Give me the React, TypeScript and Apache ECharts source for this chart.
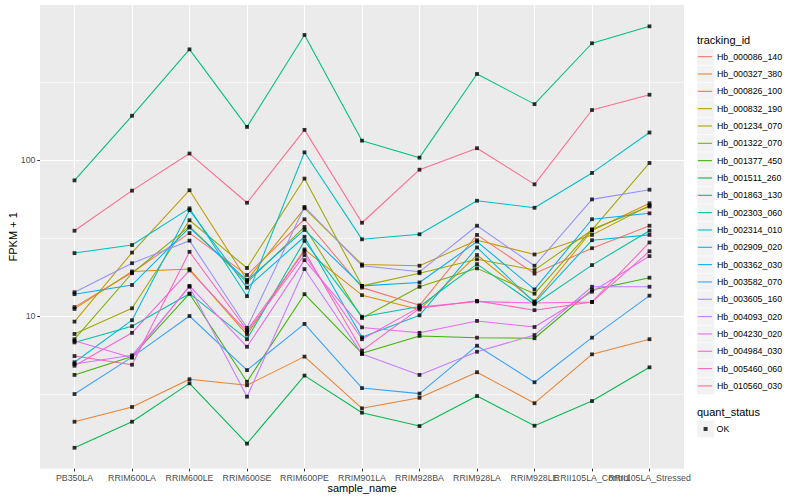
import React, { useEffect, useRef } from "react";
import * as echarts from "echarts";

const categories = [
  "PB350LA", "RRIM600LA", "RRIM600LE", "RRIM600SE", "RRIM600PE", "RRIM901LA",
  "RRIM928BA", "RRIM928LA", "RRIM928LE", "RRII105LA_Control", "RRII105LA_Stressed",
];

const trackingIds = [
  "Hb_000086_140", "Hb_000327_380", "Hb_000826_100", "Hb_000832_190", "Hb_001234_070",
  "Hb_001322_070", "Hb_001377_450", "Hb_001511_260", "Hb_001863_130", "Hb_002303_060",
  "Hb_002314_010", "Hb_002909_020", "Hb_003362_030", "Hb_003582_070", "Hb_003605_160",
  "Hb_004093_020", "Hb_004230_020", "Hb_004984_030", "Hb_005460_060", "Hb_010560_030",
];

const colors = [
  "#F8766D", "#EA8331", "#D89000", "#C09B00", "#A3A500", "#7CAE00", "#39B600", "#00BB4E",
  "#00BF7D", "#00C1A3", "#00BFC4", "#00BAE0", "#00B0F6", "#35A2FF", "#9590FF", "#C77CFF",
  "#E76BF3", "#FA62DB", "#FF62BC", "#FF6C90",
];

// FPKM + 1 per sample (order of categories)
const v000086 = [11.4, 19.0, 34.0, 18.3, 41.7, 15.2, 11.7, 33.1, 18.7, 27.2, 37.9];
const v000327 = [2.1, 2.61, 3.93, 3.6, 5.49, 2.56, 2.99, 4.36, 2.76, 5.68, 7.1];
const v000826 = [11.1, 19.3, 20.0, 7.6, 26.7, 13.6, 11.0, 24.6, 12.4, 35.3, 52.8];
const v000832 = [9.2, 25.5, 64, 17.0, 49, 21.4, 21.0, 30.6, 24.8, 33.1, 51.1];
const v001234 = [7.67, 11.2, 41.1, 20.3, 76, 15.6, 18.8, 23.1, 19.7, 35.6, 95.7];
const v001322 = [7.1, 18.8, 37.5, 16.4, 37.2, 9.7, 15.4, 20.2, 13.9, 36, 50.3];
const v001377 = [4.19, 5.5, 13.9, 3.79, 13.8, 5.76, 7.45, 7.26, 7.2, 14.7, 17.6];
const v001511 = [1.43, 2.1, 3.7, 1.52, 4.15, 2.4, 1.97, 3.07, 1.98, 2.85, 4.69];
const v001863 = [74, 192, 512, 163, 633, 133, 103.5, 356, 228, 560, 719];
const v002303 = [6.77, 8.6, 13.9, 7.1, 30.3, 9.9, 11.5, 21.5, 11.9, 21.2, 35.2];
const v002314 = [25.3, 28.5, 49, 13.4, 112, 31, 33.4, 54.8, 49.4, 82.6, 150];
const v002909 = [5.05, 9.4, 47.7, 15.2, 32.2, 7.3, 10.1, 27.5, 12.2, 30.6, 33.1];
const v003362 = [13.8, 15.8, 36.9, 16.9, 35.6, 15.6, 16.4, 30, 14.8, 41.7, 45.5];
const v003582 = [3.16, 5.45, 10, 4.5, 8.9, 3.45, 3.18, 6.45, 3.76, 7.26, 13.5];
const v003605 = [14.2, 21.8, 30.4, 8.4, 50, 21.0, 19.2, 37.9, 21, 55.9, 64.5];
const v004093 = [4.93, 5.6, 15.4, 3.04, 20, 5.7, 4.19, 5.9, 7.55, 15.4, 15.4];
const v004230 = [6.93, 5.4, 15.6, 6.35, 22.8, 8.45, 7.8, 9.3, 8.5, 14.3, 24.2];
const v004984 = [4.8, 7.8, 19.6, 7.9, 24.6, 7.1, 11.4, 12.4, 12.1, 12.3, 26];
const v005460 = [5.54, 4.87, 25.8, 8.1, 26, 6.0, 11.2, 12.5, 10.9, 12.3, 29.6];
const v010560 = [35.2, 63.6, 110, 53.2, 156, 39.6, 86.7, 119, 69.8, 209, 262];

const seriesValues = [
  v000086, v000327, v000826, v000832, v001234, v001322, v001377, v001511, v001863, v002303,
  v002314, v002909, v003362, v003582, v003605, v004093, v004230, v004984, v005460, v010560,
];

const yTickValues = [10, 100];
const statusName = "OK";

const FONT = "'Liberation Sans', Arial, Helvetica, sans-serif";

export default function App() {
  const ref = useRef<HTMLDivElement>(null);
  useEffect(() => {
    if (!ref.current) return;
    const chart = echarts.init(ref.current, null, { renderer: "svg" });
    const idx = categories.map((_, i) => i);
    const xMin = -0.6;
    const xMax = categories.length - 1 + 0.6;
    // a blank sentinel label at the axis end so that no real label is dropped for overlap
    const labelValues = [...idx, xMax];
    const minorGrid = [0.5, 1.5, 2.5].map((e) => Math.pow(10, e));

    const lineSeries = trackingIds.map((name, s) => ({
      type: "line",
      name,
      data: seriesValues[s].map((v, i) => [i, v]),
      showSymbol: false,
      symbol: "none",
      lineStyle: { color: colors[s], width: 1.05 },
      itemStyle: { color: colors[s] },
      z: 2,
      silent: true,
    }));

    const points: number[][] = [];
    seriesValues.forEach((arr) => arr.forEach((v, i) => points.push([i, v])));

    const keyH = 17.33;
    const keyRects = trackingIds.map((_, i) => ({
      type: "rect",
      shape: { x: 697, y: 48 + i * keyH, width: 17.3, height: 17.3 },
      style: { fill: "#F2F2F2", stroke: "#FFFFFF", lineWidth: 0.5 },
      silent: true,
    }));
    keyRects.push({
      type: "rect",
      shape: { x: 697, y: 420.3, width: 17.3, height: 17.3 },
      style: { fill: "#F2F2F2", stroke: "#FFFFFF", lineWidth: 0.5 },
      silent: true,
    });

    chart.setOption({
      animation: false,
      backgroundColor: "#FFFFFF",
      textStyle: { fontFamily: FONT },
      grid: {
        left: 40, right: 116, top: 5, bottom: 31.3,
        show: true, backgroundColor: "#EBEBEB", borderWidth: 0,
        containLabel: false, outerBoundsMode: "none",
      },
      title: [
        { text: "tracking_id", left: 697, top: 34.5, padding: 0,
          textStyle: { fontSize: 11, fontWeight: "normal", color: "#000", fontFamily: FONT } },
        { text: "quant_status", left: 697, top: 406, padding: 0,
          textStyle: { fontSize: 11, fontWeight: "normal", color: "#000", fontFamily: FONT } },
      ],
      graphic: keyRects,
      legend: [
        {
          data: trackingIds,
          orient: "vertical",
          left: 698, top: 48, padding: 0,
          itemWidth: 14, itemHeight: 1.1, itemGap: 0,
          icon: "rect",
          selectedMode: false,
          textStyle: { fontSize: 8.8, color: "#000", lineHeight: keyH, fontFamily: FONT },
        },
        {
          data: [statusName],
          orient: "vertical",
          left: 703.6, top: 420.3, padding: 0,
          itemWidth: 4, itemHeight: 4, itemGap: 0,
          icon: "rect",
          selectedMode: false,
          textStyle: { fontSize: 8.8, color: "#000", lineHeight: keyH, padding: [0, 0, 0, 4], fontFamily: FONT },
        },
      ],
      xAxis: {
        type: "value",
        min: xMin, max: xMax,
        axisLine: { show: false, onZero: false },
        axisTick: { show: true, length: 2.75, customValues: idx, lineStyle: { color: "#333333", width: 1 } },
        axisLabel: {
          customValues: labelValues,
          showMinLabel: true,
          hideOverlap: false,
          formatter: (v: number) => {
            const i = Math.round(v);
            return Math.abs(v - i) < 1e-6 && categories[i] ? categories[i] : " ";
          },
          color: "#4D4D4D", fontSize: 8.8, margin: 4.5, fontFamily: FONT,
        },
        splitLine: { show: true, lineStyle: { color: "#FFFFFF", width: 1.1 } },
        name: "sample_name",
        nameLocation: "middle",
        nameGap: 14,
        nameMoveOverlap: false,
        nameTextStyle: { fontSize: 11, color: "#000", fontFamily: FONT, verticalAlign: "top" },
      },
      yAxis: {
        type: "log",
        logBase: 10,
        min: 1.05, max: 985,
        axisLine: { show: false, onZero: false },
        axisTick: { show: true, length: 2.75, lineStyle: { color: "#333333", width: 1 } },
        axisLabel: {
          color: "#4D4D4D", fontSize: 8.8, margin: 4.5, fontFamily: FONT,
          showMinLabel: false, showMaxLabel: false,
          formatter: (v: number) => (yTickValues.includes(Math.round(v)) ? String(Math.round(v)) : ""),
        },
        splitLine: { show: true, showMinLine: false, showMaxLine: false, lineStyle: { color: "#FFFFFF", width: 1.1 } },
        name: "FPKM + 1",
        nameLocation: "middle",
        nameGap: 22,
        nameMoveOverlap: false,
        nameTextStyle: { fontSize: 11, color: "#000", fontFamily: FONT },
      },
      series: [
        ...lineSeries,
        {
          type: "scatter",
          name: statusName,
          data: points,
          symbol: "rect",
          symbolSize: 3.8,
          itemStyle: { color: "#000000" },
          z: 3,
          silent: true,
          markLine: {
            silent: true,
            symbol: ["none", "none"],
            z: 1,
            animation: false,
            label: { show: false },
            emphasis: { disabled: true },
            lineStyle: { color: "#FFFFFF", width: 0.55, type: "solid" },
            data: minorGrid.map((v) => ({ yAxis: v })),
          },
        },
      ],
    });
    return () => chart.dispose();
  }, []);
  return (
    <div
      ref={ref}
      style={{ position: "fixed", left: 0, top: 0, width: 800, height: 500 }}
    />
  );
}
